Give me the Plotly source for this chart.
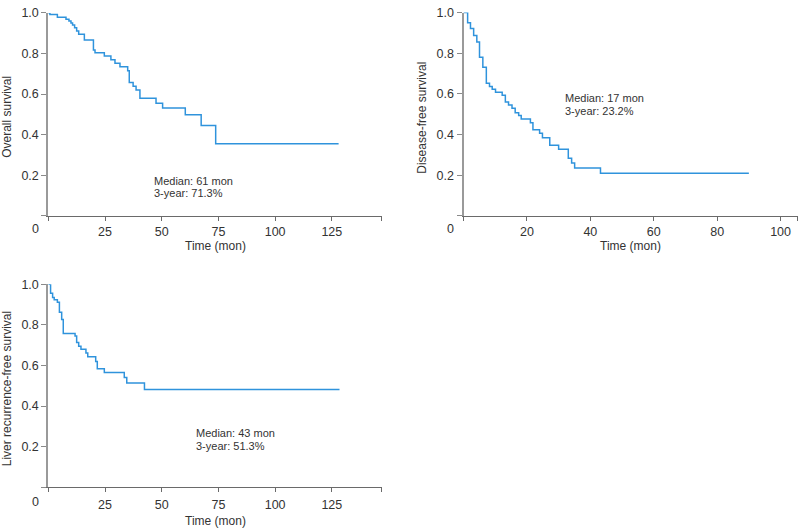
import plotly.graph_objects as go

W, H = 800, 528

# ---- Data ----
os_time = [0, 0.7, 4, 7.8, 9.1, 10, 10.7, 11.6, 12.5, 13.4, 15.9, 19.9, 20.6, 24.7, 27.6,
           29.4, 31.6, 35, 35.7, 37.4, 38.7, 40.4, 47.5, 50.4, 60.4, 67.4, 73.8, 128]
os_surv = [1.0, 0.992, 0.979, 0.969, 0.96, 0.95, 0.94, 0.927, 0.911, 0.895, 0.866, 0.817, 0.804,
           0.788, 0.769, 0.752, 0.735, 0.715, 0.657, 0.639, 0.62, 0.579, 0.555, 0.531, 0.498,
           0.445, 0.356, 0.356]

dfs_time = [0, 1.3, 2.2, 3.2, 4.2, 5.05, 6.1, 7.2, 8.2, 9.05, 10.1, 12.2, 13.2, 14.2, 15.3,
            16.3, 17.4, 18.2, 21.1, 21.9, 24, 24.9, 27.2, 30, 33.05, 34.1, 35.05, 43.2, 90]
dfs_surv = [1.0, 0.95, 0.922, 0.888, 0.856, 0.78, 0.731, 0.652, 0.636, 0.623, 0.608, 0.594,
            0.56, 0.545, 0.529, 0.508, 0.494, 0.477, 0.458, 0.424, 0.406, 0.385, 0.348, 0.328,
            0.283, 0.26, 0.236, 0.21, 0.21]

lrfs_time = [0, 1, 1.9, 2.6, 4, 4.9, 5.9, 6.6, 11.8, 12.5, 13.4, 14.4, 16.6, 17.4, 20.9,
             21.6, 24.7, 33.5, 34.6, 42.4, 128.4]
lrfs_surv = [1.0, 0.956, 0.935, 0.924, 0.911, 0.862, 0.826, 0.758, 0.745, 0.713, 0.695, 0.68,
             0.661, 0.643, 0.619, 0.584, 0.565, 0.541, 0.513, 0.482, 0.482]

y_ticks = [0, 0.2, 0.4, 0.6, 0.8, 1.0]
y_labels = ["", "0.2", "0.4", "0.6", "0.8", "1.0"]
x_ticks_mon = [0, 25, 50, 75, 100, 125]
x_ticks_dfs = [0, 20, 40, 60, 80, 100]

y_titles = ["Overall survival", "Disease-free survival", "Liver recurrence-free survival"]
x_title = "Time (mon)"
notes = [("Median: 61 mon", "3-year: 71.3%"),
         ("Median: 17 mon", "3-year: 23.2%"),
         ("Median: 43 mon", "3-year: 51.3%")]

# ---- Styling ----
FONT = "Liberation Sans, Arial, sans-serif"
LINE_COLOR = "#2f93dc"
TXT = "#333333"

def px_x(p):
    return p / W

def px_y(p):
    return 1 - p / H

# panel pixel boxes: (left, right, top(1.0), bottom(0), xmax, ticks)
panels = [
    (48.3, 381.7, 6.0, 211.7, 147.0, x_ticks_mon),
    (463.5, 797.7, 5.7, 211.7, 105.4, x_ticks_dfs),
    (48.3, 381.7, 281.0, 486.7, 147.0, x_ticks_mon),
]
series = [(os_time, os_surv), (dfs_time, dfs_surv), (lrfs_time, lrfs_surv)]

zero_off = [13.4, 13.4, 15.0]
xtitle_off = [30.5, 30.5, 34.5]
label_standoff = [0, 0, 2]

fig = go.Figure()
annotations = []
layout_axes = {}

note_pos = [(152, 176, 189), (562.7, 92.7, 105.7), (194, 431.7, 444.7)]

for i, ((l, r, t, b, xmax, xt), (tt, ss)) in enumerate(zip(panels, series)):
    n = "" if i == 0 else str(i + 1)
    fig.add_trace(go.Scatter(x=tt, y=ss, mode="lines", line=dict(color=LINE_COLOR, width=1.5, shape="hv"),
                             xaxis="x" + n, yaxis="y" + n, showlegend=False, hoverinfo="skip"))
    xt_vals = xt + [xmax]
    xt_text = [""] + [str(v) for v in xt[1:]] + [""]
    layout_axes["xaxis" + n] = dict(
        domain=[px_x(l), px_x(r)], range=[0, xmax], anchor="y" + n,
        showline=True, linecolor="#6a6a6a", linewidth=1.2,
        ticks="outside", ticklen=4, tickcolor="#6a6a6a", tickwidth=1,
        tickvals=xt_vals, ticktext=xt_text, showgrid=False, zeroline=False,
        ticklabelstandoff=label_standoff[i],
        tickfont=dict(family=FONT, size=12.5, color=TXT),
    )
    layout_axes["yaxis" + n] = dict(
        domain=[px_y(b), px_y(t)], range=[0, 1.0], anchor="x" + n,
        showline=True, linecolor="#9a9a9a", linewidth=2,
        ticks="outside", ticklen=5, tickcolor="#8a8a8a", tickwidth=1,
        tickvals=y_ticks, ticktext=y_labels, showgrid=False, zeroline=False,
        tickfont=dict(family=FONT, size=12.5, color=TXT),
    )
    # "0" origin label
    annotations.append(dict(x=px_x(l - 12.6), y=px_y(b + zero_off[i]), xref="paper", yref="paper",
                            text="0", showarrow=False, xanchor="center", yanchor="middle",
                            font=dict(family=FONT, size=12.5, color=TXT)))
    # x title
    annotations.append(dict(x=px_x((l + r) / 2), y=px_y(b + xtitle_off[i]), xref="paper", yref="paper",
                            text=x_title, showarrow=False, xanchor="center", yanchor="middle",
                            font=dict(family=FONT, size=12, color=TXT)))
    # y title
    ytx = [7.5, 422.5, 6.5][i]
    annotations.append(dict(x=px_x(ytx), y=px_y((t + b) / 2 + 3), xref="paper", yref="paper",
                            text=y_titles[i], showarrow=False, textangle=-90,
                            xanchor="center", yanchor="middle",
                            font=dict(family=FONT, size=12, color=TXT)))
    # notes
    nx, ny1, ny2 = note_pos[i]
    for txt, ny in zip(notes[i], (ny1, ny2)):
        annotations.append(dict(x=px_x(nx), y=px_y(ny), xref="paper", yref="paper",
                                text=txt, showarrow=False, xanchor="left", yanchor="middle",
                                font=dict(family=FONT, size=11, color=TXT)))

fig.update_layout(
    width=W, height=H, margin=dict(l=0, r=0, t=0, b=0),
    paper_bgcolor="white", plot_bgcolor="white",
    annotations=annotations, **layout_axes,
)

post = ("document.body.style.margin='0';document.body.style.overflow='hidden';"
        "var d=document.getElementById('{plot_id}');d.style.position='fixed';"
        "d.style.left='0px';d.style.top='0px';")

fig.write_html("out.html", post_script=post, config={"displayModeBar": False})
